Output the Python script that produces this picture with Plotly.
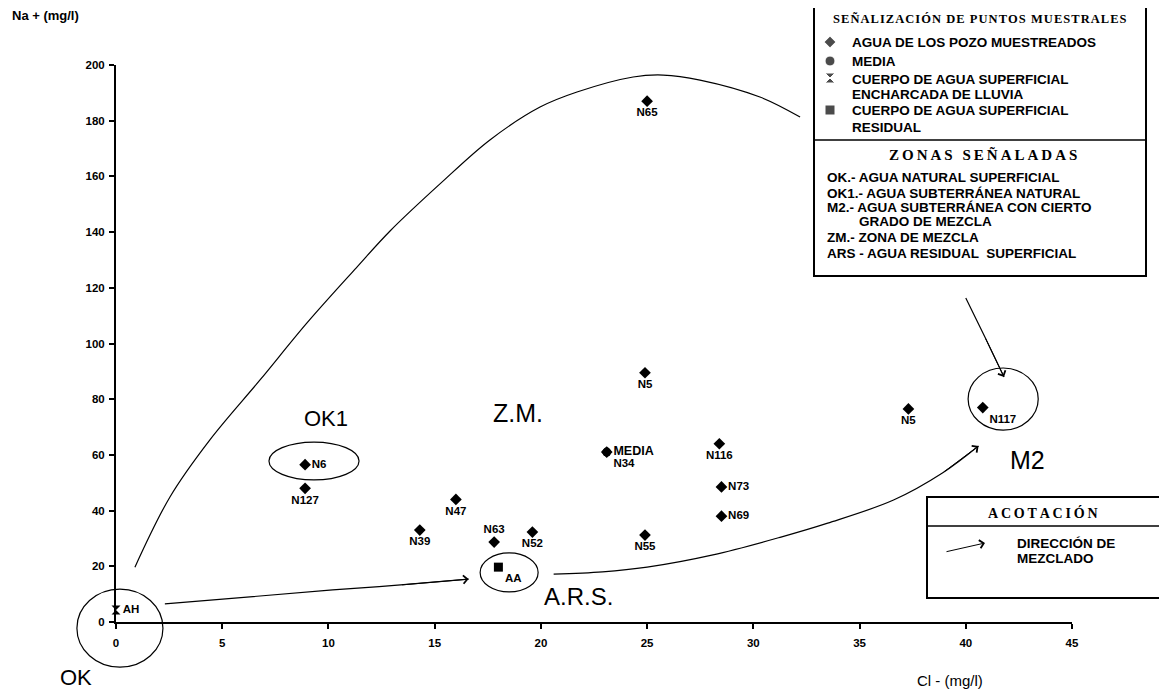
import plotly.graph_objects as go

W, H = 1167, 690
OFF = 8                      # page body margin offset
FW, FH = W - OFF, H - OFF    # figure size
# reference-pixel frame of the data axes (x: 0..45, y: 0..200)
X0PX, X1PX = 116, 1072
Y0PX, Y1PX = 622, 65
XMAX, YMAX = 45, 200
XS = (X1PX - X0PX) / XMAX
YS = (Y0PX - Y1PX) / YMAX


def px(x):
    return (x - OFF) / FW


def py(y):
    return 1 - (y - OFF) / FH


def dx(xpix):
    return (xpix - X0PX) / XS


def dy(ypix):
    return (Y0PX - ypix) / YS


# ---------------- data ----------------
x_ticks = [0, 5, 10, 15, 20, 25, 30, 35, 40, 45]
y_ticks = [0, 20, 40, 60, 80, 100, 120, 140, 160, 180, 200]

well_names = ["N65", "N5", "N6", "N127", "N39", "N47", "N63", "N52", "N34",
              "N55", "N116", "N73", "N69", "N5", "N117"]
well_cl = [25.0, 24.9, 8.9, 8.9, 14.3, 16.0, 17.8, 19.6, 23.1,
           24.9, 28.4, 28.5, 28.5, 37.3, 40.8]
well_na = [187.0, 89.5, 56.5, 48.0, 33.0, 44.0, 28.7, 32.3, 61.0,
           31.2, 64.0, 48.5, 38.0, 76.5, 77.0]
well_label_pos = ["bottom center", "bottom center", "middle right", "bottom center",
                  "bottom center", "bottom center", "top center", "bottom center",
                  "bottom right", "bottom center", "bottom center", "middle right",
                  "middle right", "bottom center", "bottom right"]

media_cl = [23.1]
media_na = [61.0]
aa_cl = [18.0]
aa_na = [19.7]
ah_cl = [0.0]
ah_na = [4.3]

# hand-drawn envelope and mixing-direction curves
envelope_cl = [0.89, 2.54, 4.42, 6.78, 8.99, 11.30, 12.90, 15.25, 17.60, 19.96, 21.70,
               24.34, 25.75, 27.49, 30.31, 32.20]
envelope_na = [19.7, 44.9, 65.4, 86.9, 107.4, 127.1, 140.4, 157.3, 173.1, 184.9, 190.3,
               195.7, 196.4, 194.6, 188.5, 181.3]
mix1_cl = [2.3, 10.2, 13.4, 16.6]
mix1_na = [6.5, 11.5, 13.3, 15.4]
mix2_cl = [20.6, 22.9, 25.0, 28.1, 31.3, 33.5, 36.6, 38.9, 40.6]
mix2_na = [17.2, 18.0, 19.7, 24.1, 30.5, 35.5, 43.8, 53.5, 63.2]
mix3_cl = [40.0, 40.9, 41.8]
mix3_na = [116.3, 102.3, 88.0]

# zone ellipses: (cl0, cl1, na0, na1)
zone_ellipses = [(-1.84, 2.21, -16.2, 11.8), (7.20, 11.44, 51.0, 64.6),
                 (17.14, 19.87, 10.8, 24.8), (40.11, 43.41, 68.9, 91.2)]
zone_names = ["OK1", "Z.M.", "A.R.S.", "M2", "OK"]
zone_cl = [9.9, 18.9, 21.75, 42.9, -1.9]
zone_na = [73.2, 75.0, 9.0, 58.0, -19.8]
zone_size = [22, 25, 24, 25, 22]

SANS = "Liberation Sans, Arial, sans-serif"
SERIF = "Liberation Serif, Times New Roman, serif"

fig = go.Figure()

# curves (on full-figure helper axes, same scale)
for cx, cy in [(envelope_cl, envelope_na), (mix1_cl, mix1_na), (mix2_cl, mix2_na), (mix3_cl, mix3_na)]:
    fig.add_trace(go.Scatter(x=cx, y=cy, mode="lines",
                             line=dict(color="black", width=1.2, shape="spline", smoothing=1.0),
                             xaxis="x2", yaxis="y2", hoverinfo="skip", showlegend=False))

# wells
fig.add_trace(go.Scatter(x=well_cl, y=well_na, mode="markers+text", text=well_names,
                         textposition=well_label_pos, cliponaxis=False,
                         marker=dict(symbol="diamond", size=9, color="black"),
                         textfont=dict(family=SANS, size=11.5, color="black", weight="bold"),
                         showlegend=False))
fig.add_trace(go.Scatter(x=media_cl, y=media_na, mode="markers+text", text=["MEDIA"],
                         textposition="middle right", cliponaxis=False,
                         marker=dict(symbol="circle", size=9, color="black"),
                         textfont=dict(family=SANS, size=12.5, color="black", weight="bold"),
                         showlegend=False))
fig.add_trace(go.Scatter(x=aa_cl, y=aa_na, mode="markers+text", text=["AA"],
                         textposition="bottom right", cliponaxis=False,
                         marker=dict(symbol="square", size=9, color="black"),
                         textfont=dict(family=SANS, size=11.5, color="black", weight="bold"),
                         showlegend=False))
fig.add_trace(go.Scatter(x=ah_cl, y=ah_na, mode="markers+text", text=["AH"],
                         textposition="middle right", cliponaxis=False,
                         marker=dict(symbol="hourglass", size=9, color="black"),
                         textfont=dict(family=SANS, size=11.5, color="black", weight="bold"),
                         showlegend=False))

# legend key symbols (on helper axes)
key_px = [(830, 42), (830, 61), (830, 78), (830, 110)]
key_sym = ["diamond", "circle", "hourglass", "square"]
key_size = [9, 10, 10, 10]
fig.add_trace(go.Scatter(x=[dx(p[0]) for p in key_px], y=[dy(p[1]) for p in key_px], mode="markers",
                         marker=dict(symbol=key_sym, size=key_size, color="black"),
                         xaxis="x2", yaxis="y2", hoverinfo="skip", showlegend=False))

shapes = []
for (a, b, c, d) in zone_ellipses:
    shapes.append(dict(type="circle", xref="x2", yref="y2", x0=a, x1=b, y0=c, y1=d,
                       line=dict(color="black", width=1.2)))

# legend boxes (paper coords)
BL, BR, BT, BB, BD = 814, 1146, -3, 276, 140
shapes.append(dict(type="rect", xref="paper", yref="paper", x0=px(BL), x1=px(BR), y0=py(BB), y1=py(BT),
                   line=dict(color="black", width=2), fillcolor="white", layer="below"))
shapes.append(dict(type="line", xref="paper", yref="paper", x0=px(BL), x1=px(BR), y0=py(BD), y1=py(BD),
                   line=dict(color="black", width=1.5)))
CL, CR, CT, CB, CD = 927, 1172, 497, 598, 526
shapes.append(dict(type="rect", xref="paper", yref="paper", x0=px(CL), x1=px(CR), y0=py(CB), y1=py(CT),
                   line=dict(color="black", width=2), fillcolor="white", layer="below"))
shapes.append(dict(type="line", xref="paper", yref="paper", x0=px(CL), x1=px(CR), y0=py(CD), y1=py(CD),
                   line=dict(color="black", width=1.5)))


def spaced(s, sep="\u2009"):
    return sep.join(s)


def ptext(x, y, t, font, xanchor="left", yanchor="middle"):
    return dict(x=px(x), y=py(y), xref="paper", yref="paper", xanchor=xanchor, yanchor=yanchor,
                text=t, showarrow=False, font=font)


ann = []
# zone labels
for name, zx, zy, zs in zip(zone_names, zone_cl, zone_na, zone_size):
    ann.append(dict(x=zx, y=zy, xref="x2", yref="y2", xanchor="center", yanchor="middle",
                    text=name, showarrow=False, font=dict(family=SANS, size=zs, color="black")))

# arrowheads
for cx, cy in [(mix1_cl, mix1_na), (mix2_cl, mix2_na), (mix3_cl, mix3_na)]:
    ann.append(dict(x=cx[-1], y=cy[-1], ax=cx[-2], ay=cy[-2], xref="x2", yref="y2", axref="x2", ayref="y2",
                    text="", showarrow=True, arrowhead=4, arrowsize=1.6, arrowwidth=1, arrowcolor="black",
                    standoff=0))

# axis titles
ann.append(ptext(10, 16, "Na + (mg/l)", dict(family=SANS, size=13, color="black", weight="bold")))
ann.append(ptext(950, 680, "Cl - (mg/l)", dict(family=SANS, size=15, color="black"), "center"))

# legend box 1
ann.append(ptext(980, 19, spaced("SEÑALIZACIÓN DE PUNTOS MUESTRALES", "\u200a"),
                 dict(family=SERIF, size=12.5, color="black", weight="bold"), "center"))
ann.append(ptext(983, 154, spaced("ZONAS SEÑALADAS"), dict(family=SERIF, size=15, color="black",
                                                           weight="bold"), "center"))
ann.append(ptext(1043, 513, spaced("ACOTACIÓN"), dict(family=SERIF, size=14, color="black", weight="bold"),
                 "center"))
items = [(850, 43, "AGUA DE LOS POZO MUESTREADOS"), (850, 61, "MEDIA"),
         (850, 79, "CUERPO DE AGUA SUPERFICIAL"), (850, 94, "ENCHARCADA DE LLUVIA"),
         (850, 111, "CUERPO DE AGUA SUPERFICIAL"), (850, 127, "RESIDUAL"),
         (825, 177, "OK.- AGUA NATURAL SUPERFICIAL"), (825, 193, "OK1.- AGUA SUBTERRÁNEA NATURAL"),
         (825, 208, "M2.- AGUA SUBTERRÁNEA CON CIERTO"), (857, 222, "GRADO DE MEZCLA"),
         (825, 238, "ZM.- ZONA DE MEZCLA"), (825, 253, "ARS - AGUA RESIDUAL  SUPERFICIAL"),
         (1015, 543, "DIRECCIÓN DE"), (1015, 558, "MEZCLADO")]
ifont = dict(family=SANS, size=13.5, color="black", weight="bold")
for x, y, t in items:
    ann.append(ptext(x, y, t, ifont))
# key arrow in the second box
ann.append(dict(x=px(985), y=py(543), xref="paper", yref="paper", ax=-40, ay=9, text="",
                showarrow=True, arrowhead=4, arrowsize=1.6, arrowwidth=1, arrowcolor="black", standoff=0))

axis_font = dict(family=SANS, size=11.5, color="black", weight="bold")
fig.update_layout(
    width=FW, height=FH, autosize=False,
    margin=dict(l=0, r=0, t=0, b=0),
    paper_bgcolor="white", plot_bgcolor="rgba(0,0,0,0)",
    showlegend=False,
    xaxis=dict(domain=[px(X0PX), px(X1PX)], range=[0, XMAX], tickvals=x_ticks, anchor="y",
               showline=True, linecolor="black", linewidth=2, ticks="outside", ticklen=5,
               tickwidth=1.5, tickcolor="black", showgrid=False, zeroline=False,
               tickfont=axis_font, ticklabelstandoff=4, automargin=False),
    yaxis=dict(domain=[py(Y0PX), py(Y1PX)], range=[0, YMAX], tickvals=y_ticks, anchor="x",
               showline=True, linecolor="black", linewidth=2, ticks="outside", ticklen=5,
               tickwidth=1.5, tickcolor="black", showgrid=False, zeroline=False,
               tickfont=axis_font, ticklabelstandoff=2, automargin=False),
    xaxis2=dict(domain=[0, 1], range=[dx(OFF), dx(W)], anchor="y2", visible=False),
    yaxis2=dict(domain=[0, 1], range=[dy(H), dy(OFF)], anchor="x2", visible=False),
    shapes=shapes,
    annotations=ann,
)

fig.write_html("out.html")
